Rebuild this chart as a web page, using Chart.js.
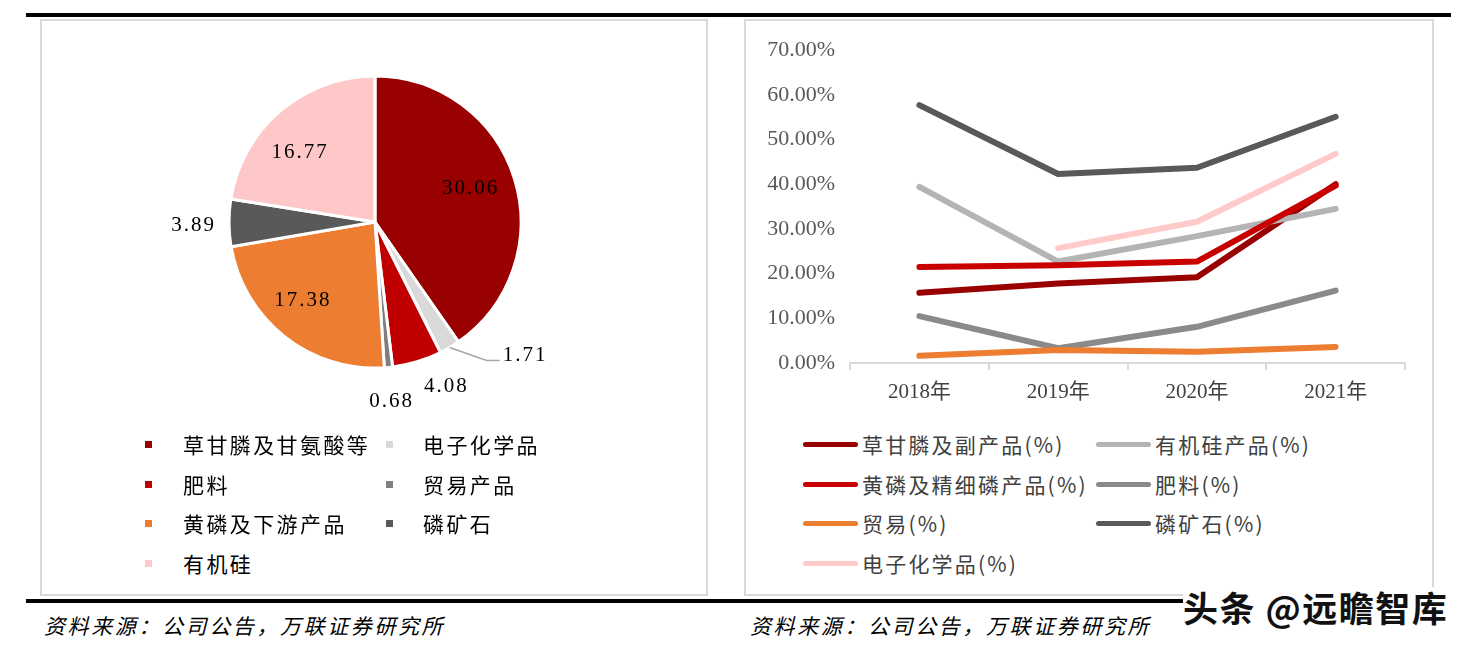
<!DOCTYPE html>
<html><head><meta charset="utf-8">
<script src="https://cdn.jsdelivr.net/npm/chart.js@4.4.1/dist/chart.umd.min.js"></script>
<style>
html,body{margin:0;padding:0;background:#fff;}
body{width:1478px;height:648px;overflow:hidden;position:relative;font-family:"Noto Sans CJK SC","Noto Sans",sans-serif;}
.bar{position:absolute;background:#000;height:4px;}
.panel{position:absolute;border:2px solid #d9d9d9;box-sizing:border-box;}
.src{position:absolute;font-style:italic;font-size:21px;letter-spacing:2.6px;color:#000;top:610px;line-height:30px;white-space:nowrap;}
.leg{position:absolute;font-size:21px;letter-spacing:2.4px;line-height:26px;white-space:nowrap;}
.mk{position:absolute;}
canvas{position:absolute;}
#wm{position:absolute;left:1183px;top:587px;width:280px;height:40px;background:#fff;font-size:35px;font-weight:600;line-height:40px;letter-spacing:1.5px;color:#111;white-space:nowrap;}
</style>
</head><body>
<div class="bar" style="left:26px;top:13px;width:1425px;"></div>
<div class="panel" style="left:40px;top:19px;width:668px;height:577px;"></div>
<div class="panel" style="left:744px;top:19px;width:690px;height:577px;"></div>
<div class="bar" style="left:26px;top:599px;width:1425px;"></div>
<canvas id="pie" width="490" height="420" style="left:130px;top:20px;"></canvas>
<canvas id="line" width="686" height="400" style="left:746px;top:22px;"></canvas>
<div id="pieLegend"></div>
<div id="lineLegend"></div>
<div class="src" style="left:44px;">资料来源：公司公告，万联证券研究所</div>
<div class="src" style="left:750px;">资料来源：公司公告，万联证券研究所</div>
<div id="wm">头条 @远瞻智库</div>
<script>
// ---------- data ----------
const pieLabels = ['草甘膦及甘氨酸等','电子化学品','肥料','贸易产品','黄磷及下游产品','磷矿石','有机硅'];
const pieValues = [30.06, 1.71, 4.08, 0.68, 17.38, 3.89, 16.77];
const pieColors = ['#990000','#d9d9d9','#c00000','#7f7f7f','#ed7d31','#595959','#ffc8c8'];

const years = ['2018年','2019年','2020年','2021年'];
const seriesNames = ['草甘膦及副产品(%)','有机硅产品(%)','黄磷及精细磷产品(%)','肥料(%)','贸易(%)','磷矿石(%)','电子化学品(%)'];
const glyphosate    = [15.7, 17.8, 19.2, 40.0];
const silicone      = [39.4, 22.7, 28.4, 34.5];
const phosphorus    = [21.5, 21.9, 22.7, 39.7];
const fertilizer    = [10.5, 3.3, 8.1, 16.2];
const trade         = [1.6, 2.9, 2.5, 3.6];
const phosphateRock = [57.7, 42.3, 43.7, 55.1];
const electronic    = [null, 25.7, 31.6, 46.8];
const lineColors = ['#990000','#b4b4b4','#c80000','#8a8a8a','#ed7d31','#595959','#ffcaca'];
const yMin = 0, yMax = 70, yStep = 10;

const lineData = [glyphosate, silicone, phosphorus, fertilizer, trade, phosphateRock, electronic];

// ---------- legends (HTML, built from arrays) ----------
const rowsY = [445, 485, 524, 564];
(function(){
  const pl = document.getElementById('pieLegend');
  pieLabels.forEach((l,i)=>{
    const row = Math.floor(i/2), col = i%2;
    const mx = col ? 386 : 145, tx = col ? 423 : 183;
    const y = rowsY[row];
    const m = document.createElement('div'); m.className='mk';
    m.style.cssText = `left:${mx}px;top:${y-4}px;width:7px;height:7px;background:${pieColors[i]};`;
    pl.appendChild(m);
    const t = document.createElement('div'); t.className='leg';
    t.style.cssText = `left:${tx}px;top:${y-14}px;color:#000;`;
    t.textContent = l; pl.appendChild(t);
  });
  const ll = document.getElementById('lineLegend');
  seriesNames.forEach((l,i)=>{
    const row = Math.floor(i/2), col = i%2;
    const mx = col ? 1096 : 803, tx = col ? 1155 : 862;
    const y = rowsY[row];
    const m = document.createElement('div'); m.className='mk';
    m.style.cssText = `left:${mx}px;top:${y-3}px;width:55px;height:5px;border-radius:3px;background:${lineColors[i]};`;
    ll.appendChild(m);
    const t = document.createElement('div'); t.className='leg';
    t.style.cssText = `left:${tx}px;top:${y-14}px;color:#404040;letter-spacing:2.2px;`;
    t.textContent = l; ll.appendChild(t);
  });
})();

// ---------- pie ----------
const pieLabelPlugin = {
  id:'pieLabels',
  afterDatasetsDraw(chart, args, opts){
    const ctx = chart.ctx, meta = chart.getDatasetMeta(0);
    ctx.save();
    ctx.font = opts.font; ctx.fillStyle = '#000';
    try{ ctx.letterSpacing = '2px'; }catch(e){}
    meta.data.forEach((arc,i)=>{
      const p = opts.place[i];
      const {x,y,startAngle,endAngle,outerRadius} = arc.getProps(['x','y','startAngle','endAngle','outerRadius'], true);
      const a = (startAngle+endAngle)/2 + (p.da||0)*Math.PI/180;
      const text = pieValues[i].toFixed(2);
      if (p.leader){
        const ex = x + Math.cos(a)*outerRadius, ey = y + Math.sin(a)*outerRadius;
        const mx = ex + p.leader[0], my = ey + p.leader[1];
        ctx.strokeStyle = '#a6a6a6'; ctx.lineWidth = 1.5;
        ctx.beginPath(); ctx.moveTo(ex,ey); ctx.lineTo(mx,my); ctx.lineTo(mx+p.leader[2], my); ctx.stroke();
        ctx.textAlign = 'left'; ctx.textBaseline = 'middle';
        ctx.fillText(text, mx + p.leader[2] + 3, my - 5);
      } else {
        const r = outerRadius*p.r;
        ctx.textAlign = 'center'; ctx.textBaseline = 'middle';
        ctx.fillText(text, x + Math.cos(a)*r + 1, y + Math.sin(a)*r + 1);
      }
    });
    ctx.restore();
  }
};

new Chart(document.getElementById('pie'), {
  type:'pie',
  data:{ labels: pieLabels, datasets:[{ data: pieValues, backgroundColor: pieColors, borderColor:'#fff', borderWidth:3 }]},
  options:{
    responsive:false, animation:false, devicePixelRatio:1,
    layout:{ padding:{ top:54.5, left:97.5, right:97.5, bottom:70.5 } },
    plugins:{
      legend:{display:false}, tooltip:{enabled:false},
      pieLabels:{
        font:'21px "Liberation Serif", serif',
        place:[ {r:0.69, da:-2.6}, {leader:[37,13,13]}, {r:1.22, da:-6.5}, {r:1.23, da:0.3},
                {r:0.73, da:5}, {r:1.25, da:-0.5}, {r:0.71, da:-6.5} ]
      }
    }
  },
  plugins:[pieLabelPlugin]
});

// ---------- line ----------
new Chart(document.getElementById('line'), {
  type:'line',
  data:{
    labels: years,
    datasets: seriesNames.map((n,i)=>({
      label:n, data: lineData[i], borderColor: lineColors[i], backgroundColor: lineColors[i],
      borderWidth:6, pointRadius:0, pointHoverRadius:0, tension:0,
      borderCapStyle:'round', borderJoinStyle:'round', spanGaps:false,
      order: seriesNames.length - i
    }))
  },
  options:{
    responsive:false, animation:false, devicePixelRatio:1,
    layout:{ padding:{ left:0, right:27, top:28, bottom:0 } },
    plugins:{ legend:{display:false}, tooltip:{enabled:false} },
    scales:{
      x:{
        offset:true,
        grid:{ display:true, drawOnChartArea:false, drawTicks:true, tickLength:7, color:'#d9d9d9', lineWidth:2, offset:true },
        border:{ display:true, color:'#d9d9d9', width:2 },
        ticks:{ color:'#404040', padding:10, font:{ family:'"Liberation Serif", "Noto Sans CJK SC", serif', size:21 } },
        afterFit(s){ s.height = 59; }
      },
      y:{
        min:yMin, max:yMax,
        grid:{ display:false, drawTicks:false },
        border:{ display:false },
        ticks:{ stepSize:yStep, padding:15, color:'#595959',
                font:{ family:'"Liberation Serif", serif', size:22 },
                callback:(v)=> v.toFixed(2)+'%' },
        afterFit(s){ s.width = 104; }
      }
    }
  }
});
</script>
</body></html>
